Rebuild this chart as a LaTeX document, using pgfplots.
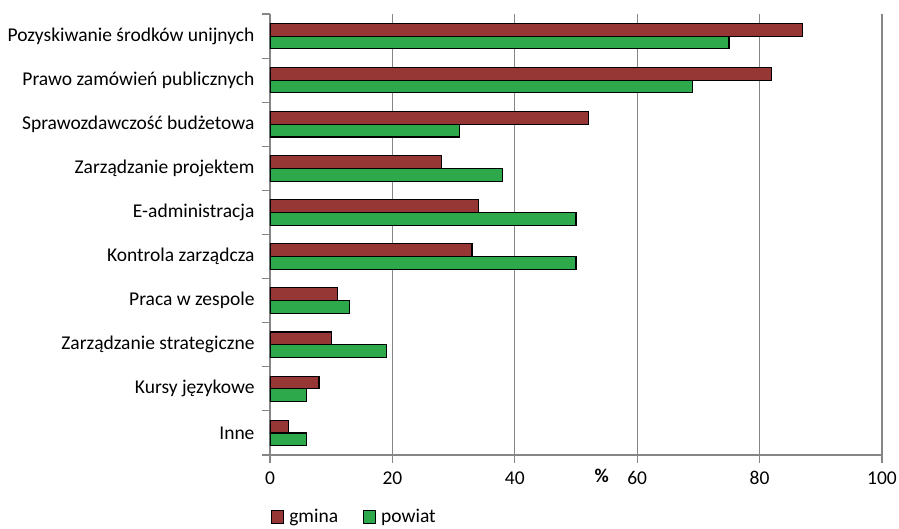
\documentclass[border=0pt]{standalone}
\usepackage{pgfplots}
\pgfplotsset{compat=1.18}
\usepackage{fontspec}
\setmainfont{Carlito}
\usetikzlibrary{calc}
\definecolor{gmina}{RGB}{150,55,53}
\definecolor{powiat}{RGB}{45,168,74}
\definecolor{gridc}{RGB}{134,134,134}
\begin{document}
\begin{tikzpicture}
\begin{axis}[
    scale only axis,
    width=612pt, height=441pt,
    xmin=0, xmax=100,
    ymin=-0.5, ymax=9.5,
    y dir=reverse,
    axis x line*=bottom,
    axis y line*=left,
    axis line style={gridc, line width=1.1pt},
    xtick={0,20,40,60,80,100},
    ytick={0,...,9},
    yticklabels={Pozyskiwanie środków unijnych, Prawo zamówień publicznych, Sprawozdawczość budżetowa, Zarządzanie projektem, E-administracja, Kontrola zarządcza, Praca w zespole, Zarządzanie strategiczne, Kursy językowe, Inne},
    minor ytick={-0.5,0.5,...,9.5},
    major y tick style={draw=none},
    minor tick length=8pt,
    minor tick style={gridc, line width=1.1pt},
    major tick length=8pt,
    x tick style={gridc, line width=1.1pt},
    tick align=outside,
    xmajorgrids=true,
    grid style={gridc, line width=1.1pt},
    ticklabel style={font=\fontsize{19.5}{23}\selectfont},
    /pgf/number format/assume math mode=true,
    xticklabel style={yshift=-5pt},
    yticklabel style={xshift=-4pt},
    xlabel={\textbf{\%}},
    xlabel style={at={(axis description cs:0.542,0)}, anchor=center, yshift=-21pt, font=\fontsize{19.5}{23}\selectfont},
    xbar,
    bar width=0.29,
    legend style={at={(axis description cs:0,0)}, anchor=north west, yshift=-52pt, xshift=1pt, draw=none, fill=none,
        legend columns=2, font=\fontsize{19.5}{23}\selectfont, inner sep=0pt,
        /tikz/every odd column/.append style={column sep=3pt},
        /tikz/every even column/.append style={column sep=23pt}},
    legend cell align=left,
    legend image code/.code={\draw[#1, line width=1.1pt] (0pt,-6.5pt) rectangle (12pt,6.5pt);},
]
\addplot[fill=gmina, draw=black, line width=1.1pt, bar shift=-0.145] coordinates {
(87,0) (82,1) (52,2) (28,3) (34,4) (33,5) (11,6) (10,7) (8,8) (3,9)};
\addplot[fill=powiat, draw=black, line width=1.1pt, bar shift=0.145] coordinates {
(75,0) (69,1) (31,2) (38,3) (50,4) (50,5) (13,6) (19,7) (6,8) (6,9)};
\legend{gmina, powiat}
\coordinate (bl) at (rel axis cs:0,0);
\coordinate (tr) at (rel axis cs:1,1);
\end{axis}
\pgfresetboundingbox
\path ($(bl)+(-270pt,-74pt)$) rectangle ($(tr)+(17pt,14pt)$);
\end{tikzpicture}
\end{document}
